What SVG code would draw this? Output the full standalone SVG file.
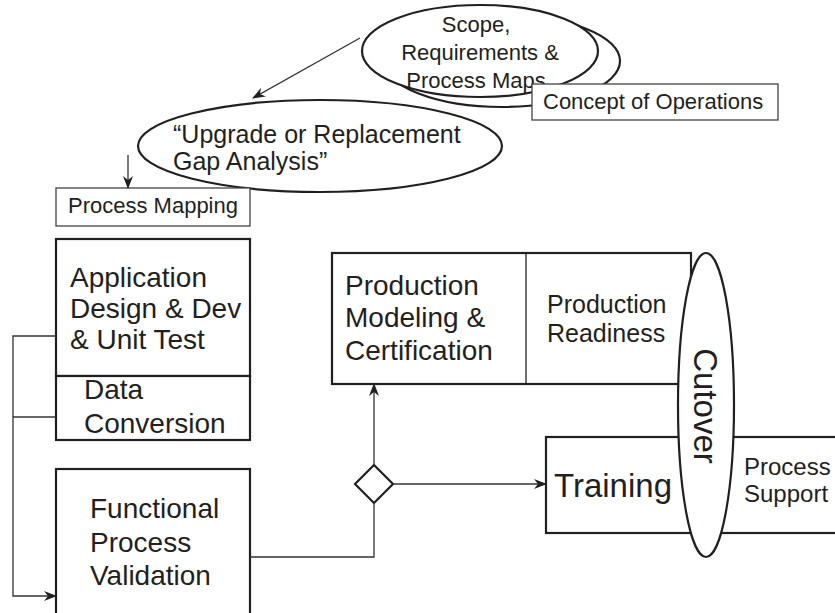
<svg xmlns="http://www.w3.org/2000/svg" width="835" height="613" viewBox="0 0 835 613">
<defs>
<style>
.box{fill:#fff;stroke:#231f20;stroke-width:2.2}
.thin{fill:#fff;stroke:#444;stroke-width:1.3}
.ell{fill:#fff;stroke:#231f20;stroke-width:2.2}
.con{fill:none;stroke:#333;stroke-width:1.3}
text{font-family:"Liberation Sans",Arial,sans-serif;fill:#231f20}
</style>
<marker id="ah" markerWidth="14" markerHeight="10" refX="12" refY="5" orient="auto" markerUnits="userSpaceOnUse">
<path d="M0,0 L13,5 L0,10 L4,5 z" fill="#231f20"/>
</marker>
</defs>
<rect width="835" height="613" fill="#fff"/>

<g id="scope">
<ellipse class="ell" cx="502" cy="61" rx="118" ry="46"/>
<ellipse class="ell" cx="480" cy="51" rx="118" ry="46"/>
<text font-size="22" text-anchor="middle"><tspan x="476" y="32">Scope,</tspan><tspan x="480" y="60">Requirements &amp;</tspan><tspan x="476" y="88">Process Maps</tspan></text>
</g>

<g id="concept">
<rect class="thin" x="532" y="84" width="246" height="36"/>
<text font-size="22" x="543" y="109">Concept of Operations</text>
</g>

<g id="upgrade">
<ellipse class="ell" cx="320" cy="146" rx="182" ry="46"/>
<text font-size="25"><tspan x="173" y="143">“Upgrade or Replacement</tspan><tspan x="173" y="170">Gap Analysis”</tspan></text>
</g>

<g id="process-mapping">
<rect class="thin" x="56" y="188" width="194" height="38"/>
<text font-size="22" x="68" y="213">Process Mapping</text>
</g>

<g id="app-design">
<rect class="box" x="56" y="239" width="194" height="137"/>
<text font-size="28"><tspan x="70" y="287">Application</tspan><tspan x="70" y="318">Design &amp; Dev</tspan><tspan x="70" y="349">&amp; Unit Test</tspan></text>
</g>

<g id="data-conversion">
<rect class="box" x="56" y="376" width="194" height="64"/>
<text font-size="28"><tspan x="84" y="399">Data</tspan><tspan x="84" y="433">Conversion</tspan></text>
</g>

<g id="functional">
<rect class="box" x="56" y="469" width="194" height="160"/>
<text font-size="28"><tspan x="90" y="518">Functional</tspan><tspan x="90" y="552">Process</tspan><tspan x="90" y="585">Validation</tspan></text>
</g>

<g id="production">
<rect class="box" x="332" y="253" width="359" height="131"/>
<line x1="526" y1="253" x2="526" y2="384" stroke="#231f20" stroke-width="1.3"/>
<text font-size="28"><tspan x="345" y="295">Production</tspan><tspan x="345" y="327">Modeling &amp;</tspan><tspan x="345" y="360">Certification</tspan></text>
<text font-size="25"><tspan x="547" y="313">Production</tspan><tspan x="547" y="342">Readiness</tspan></text>
</g>

<g id="training">
<rect class="box" x="546" y="437" width="300" height="96"/>
<text font-size="33" x="554" y="497">Training</text>
<text font-size="24"><tspan x="744" y="475">Process</tspan><tspan x="744" y="502">Support</tspan></text>
</g>

<g id="cutover">
<ellipse class="ell" cx="706" cy="405" rx="28" ry="152"/>
<text font-size="33" text-anchor="middle" transform="translate(694,406) rotate(90)">Cutover</text>
</g>

<g id="decision">
<polygon class="box" points="374,465 393,484 374,503 355,484" stroke-width="1.8"/>
</g>

<g id="connectors">
<line class="con" x1="360" y1="38" x2="253" y2="98" marker-end="url(#ah)"/>
<line class="con" x1="128" y1="155" x2="128" y2="188" marker-end="url(#ah)"/>
<path class="con" d="M56,336 H13 V596 H56" marker-end="url(#ah)"/>
<path class="con" d="M56,417 H13"/>
<path class="con" d="M250,557 H374 V503"/>
<line class="con" x1="374" y1="465" x2="374" y2="384" marker-end="url(#ah)"/>
<line class="con" x1="393" y1="484" x2="546" y2="484" marker-end="url(#ah)"/>
</g>
</svg>
